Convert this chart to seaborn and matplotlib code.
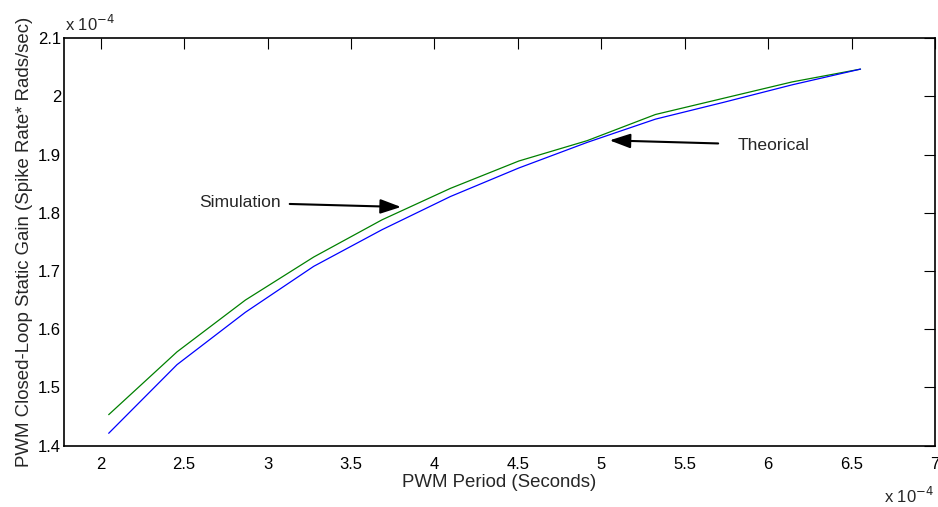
import matplotlib
matplotlib.use("Agg")
import matplotlib.pyplot as plt
import numpy as np
import pandas as pd
import seaborn as sns
from matplotlib.ticker import FuncFormatter, FixedLocator

# PWM period (seconds) and closed-loop static gain for both curves
period = [2.048e-4, 2.4576e-4, 2.8672e-4, 3.2768e-4, 3.6864e-4, 4.096e-4,
          4.5056e-4, 4.9152e-4, 5.3248e-4, 5.7344e-4, 6.144e-4, 6.5536e-4]
gain_simulation = [1.453e-4, 1.561e-4, 1.650e-4, 1.724e-4, 1.788e-4, 1.842e-4,
                   1.889e-4, 1.924e-4, 1.969e-4, 1.997e-4, 2.025e-4, 2.047e-4]
gain_theorical = [1.421e-4, 1.539e-4, 1.629e-4, 1.708e-4, 1.771e-4, 1.828e-4,
                  1.877e-4, 1.921e-4, 1.961e-4, 1.990e-4, 2.020e-4, 2.047e-4]

x_ticks = [2, 2.5, 3, 3.5, 4, 4.5, 5, 5.5, 6, 6.5, 7]
y_ticks = [1.4, 1.5, 1.6, 1.7, 1.8, 1.9, 2.0, 2.1]

df = pd.DataFrame({
    "period": period * 2,
    "gain": gain_simulation + gain_theorical,
    "curve": ["Simulation"] * len(period) + ["Theorical"] * len(period),
})

sns.set_style("white")
plt.rcParams["font.family"] = ["Liberation Sans", "DejaVu Sans"]

fig = plt.figure(figsize=(9.38, 5.07), dpi=100)
ax = fig.add_axes([0.0682, 0.1213, 0.9286, 0.8032])

sns.lineplot(data=df, x="period", y="gain", hue="curve",
             palette={"Simulation": "#008000", "Theorical": "#0000ff"},
             linewidth=0.9, legend=False, ax=ax, sort=False)

ax.set_xlim(1.78e-4, 7e-4)
ax.set_ylim(1.4e-4, 2.1e-4)
ax.xaxis.set_major_locator(FixedLocator([v * 1e-4 for v in x_ticks]))
ax.yaxis.set_major_locator(FixedLocator([v * 1e-4 for v in y_ticks]))
fmt = FuncFormatter(lambda v, p: f"{v / 1e-4:g}")
ax.xaxis.set_major_formatter(fmt)
ax.yaxis.set_major_formatter(fmt)

ax.tick_params(direction="in", length=8, width=0.8, top=True, right=True,
               labelsize=12, colors="black")
ax.tick_params(axis="x", pad=8)
ax.tick_params(axis="y", pad=2)
for s in ax.spines.values():
    s.set_color("black")
    s.set_linewidth(1.2)

ax.set_xlabel("PWM Period (Seconds)", fontsize=13.4, labelpad=2)
ax.set_ylabel("PWM Closed-Loop Static Gain (Spike Rate* Rads/sec)",
              fontsize=13.4, labelpad=4)

# exponent markers for both axes
fig.text(65 / 938, 1 - 24 / 507, r"x 10$^{-4}$", fontsize=12, ha="left", va="center")
fig.text(884 / 938, 1 - 496 / 507, r"x 10$^{-4}$", fontsize=12, ha="left", va="center")

# curve annotations
ax.annotate("Simulation", xy=(3.80e-4, 1.810e-4), xytext=(3.08e-4, 1.8175e-4),
            fontsize=12.6, ha="right", va="center",
            arrowprops=dict(arrowstyle="-|>,head_length=1.0,head_width=0.35",
                            color="black", lw=1.5, shrinkA=4, shrinkB=0))
ax.annotate("Theorical", xy=(5.05e-4, 1.9245e-4), xytext=(5.82e-4, 1.9165e-4),
            fontsize=12.6, ha="left", va="center",
            arrowprops=dict(arrowstyle="-|>,head_length=1.0,head_width=0.35",
                            color="black", lw=1.5, shrinkA=12, shrinkB=0))

fig.savefig("out.png", dpi=100)
